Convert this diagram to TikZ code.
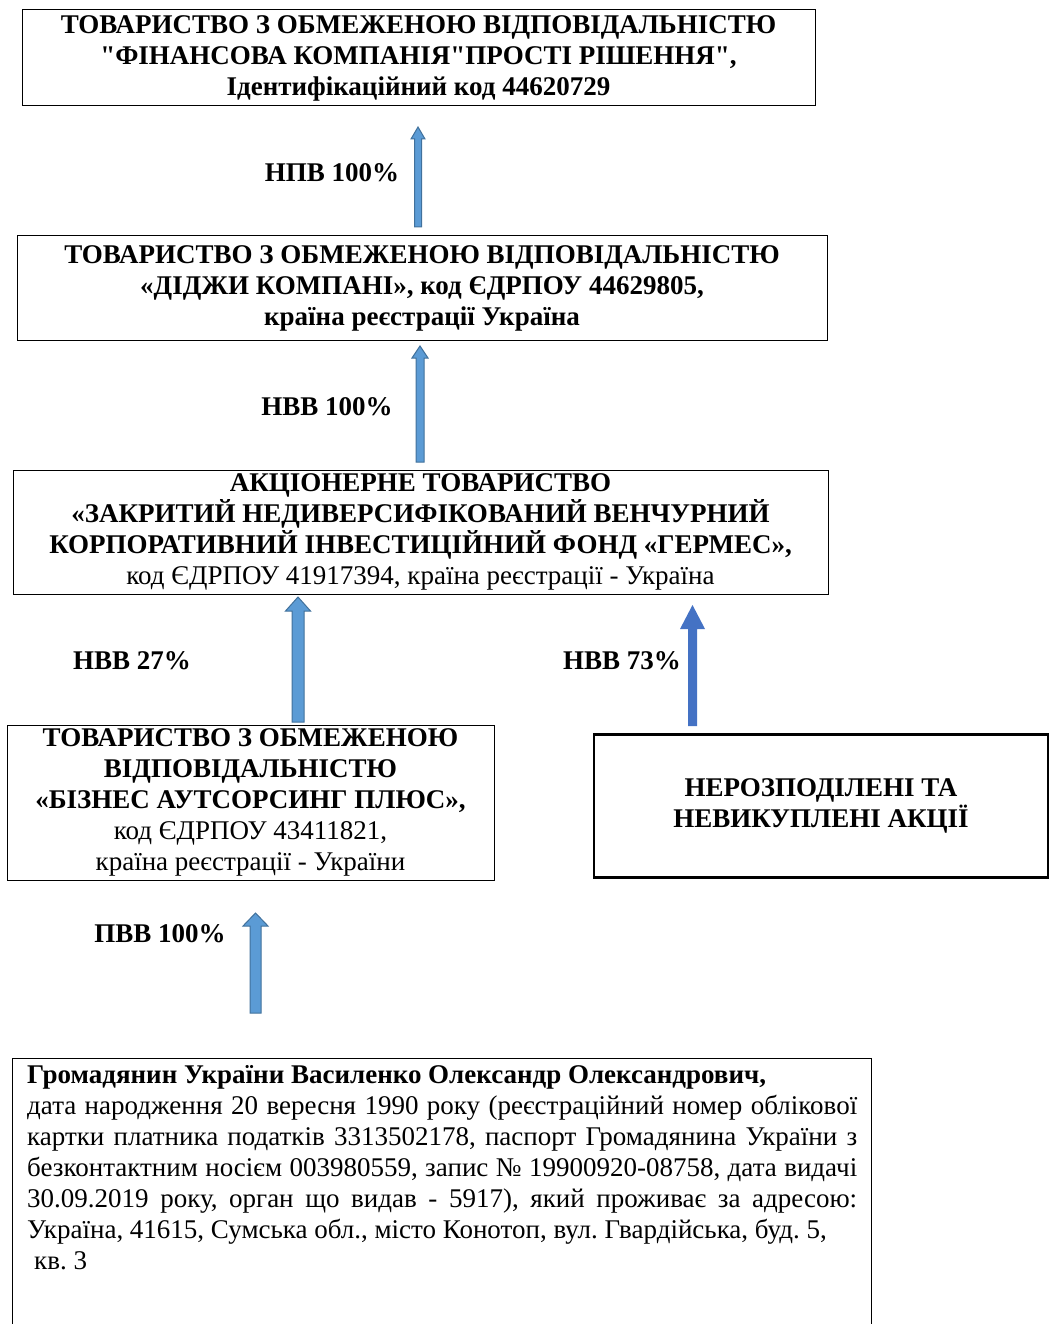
\documentclass[tikz,border=0pt]{standalone}
\usepackage{fontspec}
\setmainfont{Liberation Serif}
\newfontfamily\plainq{Liberation Serif}
\usetikzlibrary{calc}
\definecolor{afill}{HTML}{5B9BD5}
\definecolor{aline}{HTML}{41719C}
\definecolor{asolid}{HTML}{4472C4}
\newcommand\fs{\fontsize{27}{31}\selectfont\frenchspacing}
\newcommand\qq{{\plainq\bfseries"}}
% #1 style, #2 start, #3 tip, #4 half shaft, #5 half head, #6 head length
\newcommand\blockarrow[6]{%
  \path[#1] let \p1=(#2), \p2=(#3) in
  (\x1-#4pt,\y1) -- (\x1-#4pt,\y2-#6pt) -- (\x1-#5pt,\y2-#6pt) -- (\x2,\y2)
  -- (\x1+#5pt,\y2-#6pt) -- (\x1+#4pt,\y2-#6pt) -- (\x1+#4pt,\y1) -- cycle;}
\begin{document}
\begin{tikzpicture}[x=1pt,y=-1pt,
  box/.style={draw, line width=1pt, inner sep=0pt, align=center, font=\fs},
  lbl/.style={font=\fs\bfseries, inner sep=0pt},
  outl/.style={fill=afill, draw=aline, line width=1pt},
  solidarrow/.style={fill=asolid}]
\useasboundingbox (0,0) rectangle (1050,1324);
\clip (0,0) rectangle (1050,1324);

\node[box, minimum width=793pt, minimum height=96pt] (b1) at (418.5,58)
 {\bfseries ТОВАРИСТВО З ОБМЕЖЕНОЮ ВІДПОВІДАЛЬНІСТЮ\\
  \bfseries \qq ФІНАНСОВА КОМПАНІЯ\qq ПРОСТІ РІШЕННЯ\qq,\\
  \bfseries Ідентифікаційний код 44620729};

\node[box, minimum width=810pt, minimum height=104pt] (b2) at (422,288)
 {\bfseries ТОВАРИСТВО З ОБМЕЖЕНОЮ ВІДПОВІДАЛЬНІСТЮ\\
  \bfseries «ДІДЖИ КОМПАНІ», код ЄДРПОУ 44629805,\\
  \bfseries країна реєстрації Україна};

\node[box, minimum width=815pt, minimum height=124pt] (b3) at (420.5,532)
 {\bfseries АКЦІОНЕРНЕ ТОВАРИСТВО\\
  \bfseries «ЗАКРИТИЙ НЕДИВЕРСИФІКОВАНИЙ ВЕНЧУРНИЙ\\
  \bfseries КОРПОРАТИВНИЙ ІНВЕСТИЦІЙНИЙ ФОНД «ГЕРМЕС»,\\
  код ЄДРПОУ 41917394, країна реєстрації - Україна};

\node[box, minimum width=487pt, minimum height=155pt] (b4) at (250.5,802.5)
 {\bfseries ТОВАРИСТВО З ОБМЕЖЕНОЮ\\
  \bfseries ВІДПОВІДАЛЬНІСТЮ\\
  \bfseries «БІЗНЕС АУТСОРСИНГ ПЛЮС»,\\
  код ЄДРПОУ 43411821,\\
  країна реєстрації - України};

\node[box, line width=2.5pt, minimum width=454pt, minimum height=143pt] (b5) at (821,806)
 {\bfseries НЕРОЗПОДІЛЕНІ ТА\\
  \bfseries НЕВИКУПЛЕНІ АКЦІЇ};

\node[draw, line width=1pt, minimum width=859pt, minimum height=300pt, inner sep=0pt,
  anchor=north west] (b6) at (12,1058) {};
\node[anchor=north west, inner sep=0pt, text width=830pt, font=\fs, align=justify] (t6) at (27,1065)
 {\textbf{Громадянин України Василенко Олександр Олександрович,}\\
  дата народження 20 вересня 1990 року (реєстраційний номер облікової\linebreak
  картки платника податків 3313502178, паспорт Громадянина України з\linebreak
  безконтактним носієм 003980559, запис № 19900920-08758, дата видачі\linebreak
  30.09.2019 року, орган що видав - 5917), який проживає за адресою:\linebreak
  Україна, 41615, Сумська обл., місто Конотоп, вул. Гвардійська, буд. 5,\\
  \hspace*{7pt}кв. 3};

% arrow end points
\coordinate (a1s) at (418,227);  \coordinate (a1e) at (418,127);
\coordinate (a2s) at (420,462);  \coordinate (a2e) at (420,346);
\coordinate (a3s) at (298,722);  \coordinate (a3e) at (298,597);
\coordinate (a4s) at (692.5,726); \coordinate (a4e) at (692.5,605);
\coordinate (a5s) at (255.5,1013); \coordinate (a5e) at (255.5,913);

\blockarrow{outl}{a1s}{a1e}{3.5}{7}{12}
\blockarrow{outl}{a2s}{a2e}{4}{8}{12}
\blockarrow{outl}{a3s}{a3e}{6}{12.5}{14}
\blockarrow{solidarrow}{a4s}{a4e}{4.5}{12.5}{24}
\blockarrow{outl}{a5s}{a5e}{5.5}{12.5}{13}

\node[lbl] (l1) at (332,173) {НПВ 100\%};
\node[lbl] (l2) at (327,407) {НВВ 100\%};
\node[lbl] (l3) at (132,661) {НВВ 27\%};
\node[lbl] (l4) at (622,661) {НВВ 73\%};
\node[lbl] (l5) at (160,934) {ПВВ 100\%};
\end{tikzpicture}
\end{document}
